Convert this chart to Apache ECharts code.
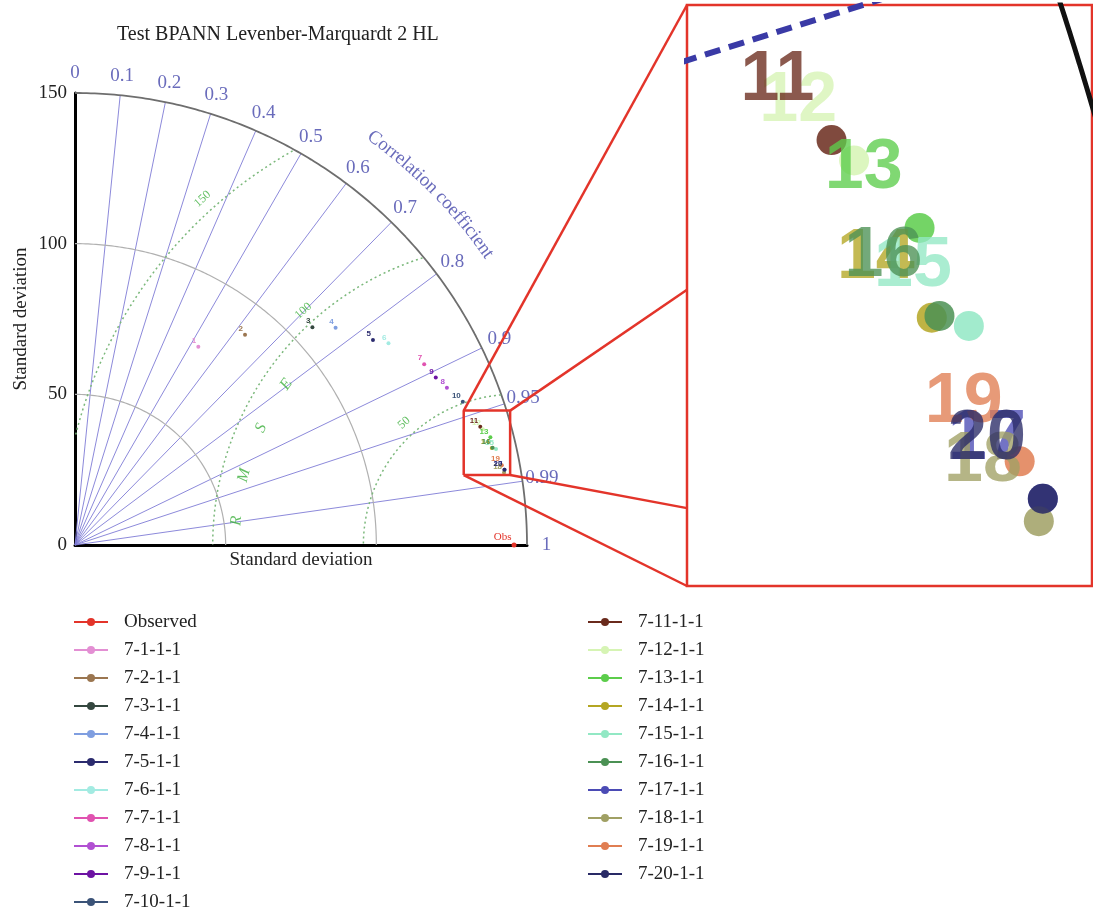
<!DOCTYPE html>
<html>
<head>
<meta charset="utf-8">
<script src="https://cdn.jsdelivr.net/npm/echarts@6/dist/echarts.min.js"></script>
<style>
  html, body { margin: 0; padding: 0; background: #ffffff; }
  #chart { width: 1093px; height: 915px; }
</style>
</head>
<body>
<div id="chart"></div>
<script>
// ---- Taylor diagram data ----
const chartTitle = 'Test BPANN Levenber-Marquardt 2 HL';
const modelNames = ['7-1-1-1', '7-2-1-1', '7-3-1-1', '7-4-1-1', '7-5-1-1', '7-6-1-1', '7-7-1-1',
  '7-8-1-1', '7-9-1-1', '7-10-1-1', '7-11-1-1', '7-12-1-1', '7-13-1-1', '7-14-1-1', '7-15-1-1',
  '7-16-1-1', '7-17-1-1', '7-18-1-1', '7-19-1-1', '7-20-1-1'];
const stdDev = [77.5, 89.7, 106.9, 112.6, 120.0, 123.7, 130.5, 134.0, 132.0, 137.2,
  140.1, 140.7, 142.4, 142.0, 143.3, 142.3, 144.7, 144.4, 144.1, 144.7];
const corrCoef = [0.528, 0.629, 0.737, 0.768, 0.824, 0.841, 0.888, 0.921, 0.907, 0.938,
  0.960, 0.962, 0.968, 0.974, 0.975, 0.974, 0.985, 0.986, 0.983, 0.985];
const modelColors = ['#e38fd3', '#9b7650', '#34473f', '#7f9ee0', '#2b2b6e', '#a3ebe2', '#e052b0',
  '#b150d2', '#6d12a3', '#3b5378', '#6a2a1c', '#d6f4b4', '#5ccd4b', '#b4a623', '#92e8c4',
  '#4b9154', '#4b4bb5', '#a0a064', '#e07e52', '#292a66'];
const obsName = 'Observed';
const obsStd = 145.7;
const obsColor = '#e3342a';

// axis ticks
const stdTicks = [50, 100, 150];
const corrTicks = [0, 0.1, 0.2, 0.3, 0.4, 0.5, 0.6, 0.7, 0.8, 0.9, 0.95, 0.99, 1];
const corrTickLabels = ['0', '0.1', '0.2', '0.3', '0.4', '0.5', '0.6', '0.7', '0.8', '0.9', '0.95', '0.99', '1'];
const corrCaption = 'Correlation coefficient';
const rmseTicks = [50, 100, 150];
const rmseLetters = ['R', 'M', 'S', 'E'];
const rmseLetterAngles = [175, 165.5, 155.2, 144.8];

// zoom window on the diagram and the extent shown in the magnified panel (std-dev units)
const zoomX = [129, 144.4];
const zoomY = [23.2, 44.6];
const panelX = [129, 144.4];
const panelY = [21.5, 44.6];

// ---- helpers ----
const SERIF = 'Liberation Serif';
const SANS = 'Liberation Sans';
const SD_MAX = 150;
const PLOT_SIZE = 452;
const RAD = Math.PI / 180;

function toXY(sd, r) { return [sd * r, sd * Math.sqrt(Math.max(0, 1 - r * r))]; }
function arcPts(radius, cx, a0, a1, n) {
  const pts = [];
  for (let k = 0; k <= n; k++) {
    const t = (a0 + (a1 - a0) * k / n) * RAD;
    pts.push([cx + radius * Math.cos(t), radius * Math.sin(t)]);
  }
  return pts;
}
function guide(data, lineStyle, grid, z) {
  return {
    type: 'line', data, symbol: 'none', showSymbol: false, silent: true, animation: false,
    xAxisIndex: grid, yAxisIndex: grid, lineStyle, z: z || 2, clip: grid === 1
  };
}
const measureCtx = document.createElement('canvas').getContext('2d');
function measure(text, font) {
  measureCtx.font = font;
  return measureCtx.measureText(text).width;
}

const series = [];

// correlation rays
corrTicks.forEach(c => {
  if (c <= 0 || c >= 1) return;
  series.push(guide([[0, 0], toXY(SD_MAX, c)], { color: '#7f7cd6', width: 1, opacity: 0.9 }, 0, 2));
});
// standard deviation arcs
stdTicks.forEach(s => {
  const outer = s === SD_MAX;
  series.push(guide(arcPts(s, 0, 0, 90, 180),
    outer ? { color: '#6e6e6e', width: 1.8 } : { color: '#b0b0b0', width: 1.2 }, 0, 3));
});
// centred RMS difference arcs, kept inside the outer arc
rmseTicks.forEach(r => {
  const pts = arcPts(r, obsStd, 0, 180, 540).filter(p => p[0] >= 0 && p[0] * p[0] + p[1] * p[1] <= SD_MAX * SD_MAX + 1e-6);
  series.push(guide(pts, { color: '#7bb87b', width: 1.5, type: [2, 3] }, 0, 3));
});

// correlation tick labels
series.push({
  type: 'scatter', silent: true, animation: false, clip: false, symbolSize: 0, z: 5,
  data: corrTicks.map((c, i) => toXY(156.5, c).concat([corrTickLabels[i]])),
  label: { show: true, position: 'inside', formatter: p => p.value[2], color: '#4446aa', fontFamily: SERIF, fontSize: 19 }
});

// curved caption of the correlation scale, one glyph at a time
const capFont = '19px "' + SERIF + '"';
const capRadius = 167.6;
const capRadiusPx = capRadius * PLOT_SIZE / SD_MAX;
const capGlyphs = [];
{
  let ang = 44.6 * RAD + measure(corrCaption, capFont) / (2 * capRadiusPx);
  for (const ch of corrCaption) {
    const w = measure(ch, capFont);
    const mid = ang - w / (2 * capRadiusPx);
    capGlyphs.push({
      value: [capRadius * Math.cos(mid), capRadius * Math.sin(mid), ch],
      label: { rotate: mid / RAD - 90 }
    });
    ang -= w / capRadiusPx;
  }
}
series.push({
  type: 'scatter', silent: true, animation: false, clip: false, symbolSize: 0, z: 5,
  data: capGlyphs,
  label: { show: true, position: 'inside', formatter: p => p.value[2], color: '#4446aa', fontFamily: SERIF, fontSize: 19 }
});

// RMS tick labels
series.push({
  type: 'scatter', silent: true, animation: false, clip: false, symbolSize: 0, z: 5,
  data: rmseTicks.map(r => ({
    value: [obsStd + (r + 4.5) * Math.cos(132 * RAD), (r + 4.5) * Math.sin(132 * RAD), String(r)],
    label: { rotate: 42 }
  })),
  label: { show: true, position: 'inside', formatter: p => p.value[2], color: '#3caf3c', fontFamily: SERIF, fontSize: 12 }
});
// "RMSE" lettering along the 100 arc
series.push({
  type: 'scatter', silent: true, animation: false, clip: false, symbolSize: 0, z: 5,
  data: rmseLetters.map((ch, i) => ({
    value: [obsStd + 92.5 * Math.cos(rmseLetterAngles[i] * RAD), 92.5 * Math.sin(rmseLetterAngles[i] * RAD), ch],
    label: { rotate: rmseLetterAngles[i] - 90 }
  })),
  label: { show: true, position: 'inside', formatter: p => p.value[2], color: '#3caf3c', fontFamily: SERIF, fontStyle: 'italic', fontSize: 16 }
});

// zoom window outline on the main diagram
series.push(guide([[zoomX[0], zoomY[0]], [zoomX[1], zoomY[0]], [zoomX[1], zoomY[1]], [zoomX[0], zoomY[1]], [zoomX[0], zoomY[0]]],
  { color: '#e3342a', width: 2.5 }, 0, 20));

// guides seen inside the magnified panel
series.push(guide(arcPts(SD_MAX, 0, 0, 90, 720), { color: '#111111', width: 5 }, 1, 3));
series.push(guide([[0, 0], toXY(SD_MAX, 0.95)], { color: '#3a3aa6', width: 6, type: [16, 9] }, 1, 3));

// observed reference point
series.push({
  type: 'line', name: obsName, data: [[obsStd, 0]], symbol: 'circle', symbolSize: 5, showSymbol: true,
  animation: false, clip: false, z: 10,
  itemStyle: { color: obsColor }, lineStyle: { color: obsColor, width: 2 },
  label: { show: true, formatter: 'Obs', position: [0, 0], align: 'right', verticalAlign: 'bottom',
    fontFamily: SERIF, fontSize: 11, color: obsColor }
});

// model points, main diagram
modelNames.forEach((name, i) => {
  series.push({
    type: 'line', name, data: [toXY(stdDev[i], corrCoef[i])], symbol: 'circle', symbolSize: 4, showSymbol: true,
    animation: false, clip: false, z: 10,
    itemStyle: { color: modelColors[i] }, lineStyle: { color: modelColors[i], width: 2 },
    label: { show: true, formatter: String(i + 1), position: [0, 0], align: 'right', verticalAlign: 'bottom',
      fontFamily: SANS, fontWeight: 'bold', fontSize: 8, color: modelColors[i] }
  });
});
// model points, magnified panel (the pale 7-12 marker sits underneath 7-11)
modelNames.forEach((name, i) => {
  series.push({
    type: 'line', name, data: [toXY(stdDev[i], corrCoef[i])], symbol: 'circle', symbolSize: 30, showSymbol: true,
    animation: false, clip: true, z: i === 11 ? 9 : 10, xAxisIndex: 1, yAxisIndex: 1,
    itemStyle: { color: modelColors[i], opacity: 0.85 }, lineStyle: { color: modelColors[i], width: 2 },
    label: { show: true, formatter: String(i + 1), position: [-2, -9], align: 'right', verticalAlign: 'bottom',
      fontFamily: SANS, fontWeight: 'bold', fontSize: 70, color: modelColors[i], opacity: 0.78 }
  });
});

const titleFont = '20px "' + SERIF + '"';
const titleLeft = Math.round(278 - measure(chartTitle, titleFont) / 2) - 5;

const legendText = { fontFamily: SERIF, fontSize: 19, color: '#222222', lineHeight: 20, padding: [0, 0, 0, 11] };

const option = {
  backgroundColor: '#ffffff',
  animation: false,
  title: {
    text: chartTitle, left: titleLeft, top: 20,
    textStyle: { fontFamily: SERIF, fontSize: 20, fontWeight: 'normal', color: '#222222' }
  },
  legend: [
    { data: [obsName].concat(modelNames.slice(0, 10)), orient: 'vertical', left: 73, top: 612, padding: 0,
      itemWidth: 34, itemHeight: 10, itemGap: 8, selectedMode: false, textStyle: legendText },
    { data: modelNames.slice(10), orient: 'vertical', left: 587, top: 612, padding: 0,
      itemWidth: 34, itemHeight: 10, itemGap: 8, selectedMode: false, textStyle: legendText }
  ],
  grid: [
    { left: 75, top: 93, width: PLOT_SIZE, height: PLOT_SIZE, show: false },
    { left: 687, top: 5, width: 405, height: 581, show: true, borderColor: '#e3342a', borderWidth: 2.5,
      backgroundColor: 'rgba(0,0,0,0)' }
  ],
  xAxis: [
    { gridIndex: 0, type: 'value', min: 0, max: SD_MAX, interval: 50,
      axisLine: { show: true, lineStyle: { color: '#000000', width: 3 } },
      axisTick: { show: false }, axisLabel: { show: false }, splitLine: { show: false },
      name: 'Standard deviation', nameLocation: 'middle', nameGap: 6,
      nameTextStyle: { fontFamily: SERIF, fontSize: 19, color: '#222222', verticalAlign: 'top' } },
    { gridIndex: 1, type: 'value', min: panelX[0], max: panelX[1], show: false }
  ],
  yAxis: [
    { gridIndex: 0, type: 'value', min: 0, max: SD_MAX, interval: 50,
      axisLine: { show: true, lineStyle: { color: '#000000', width: 3 } },
      axisTick: { show: false }, splitLine: { show: false },
      axisLabel: { fontFamily: SERIF, fontSize: 19, color: '#222222', margin: 8 },
      name: 'Standard deviation', nameLocation: 'middle', nameGap: 44,
      nameTextStyle: { fontFamily: SERIF, fontSize: 19, color: '#222222' } },
    { gridIndex: 1, type: 'value', min: panelY[0], max: panelY[1], show: false }
  ],
  series
};

const chart = echarts.init(document.getElementById('chart'), null, { renderer: 'canvas' });
chart.setOption(option);

// connectors from the zoom window to the magnified panel, placed from the axes' own scales
const boxTL = chart.convertToPixel({ gridIndex: 0 }, [zoomX[0], zoomY[1]]);
const boxTR = chart.convertToPixel({ gridIndex: 0 }, [zoomX[1], zoomY[1]]);
const boxBR = chart.convertToPixel({ gridIndex: 0 }, [zoomX[1], zoomY[0]]);
const boxBL = chart.convertToPixel({ gridIndex: 0 }, [zoomX[0], zoomY[0]]);
const panelTL = chart.convertToPixel({ gridIndex: 1 }, [panelX[0], panelY[1]]);
const panelBL = chart.convertToPixel({ gridIndex: 1 }, [panelX[0], panelY[0]]);
const panelH = panelBL[1] - panelTL[1];
const links = [
  [boxTL, [panelTL[0], panelTL[1]]],
  [boxTR, [panelTL[0], panelTL[1] + 0.49 * panelH]],
  [boxBR, [panelTL[0], panelTL[1] + 0.866 * panelH]],
  [boxBL, [panelBL[0], panelBL[1]]]
];
chart.setOption({
  graphic: links.map(([a, b]) => ({
    type: 'line', silent: true, z: 20,
    shape: { x1: a[0], y1: a[1], x2: b[0], y2: b[1] },
    style: { stroke: '#e3342a', lineWidth: 2.5 }
  }))
});
</script>
</body>
</html>
